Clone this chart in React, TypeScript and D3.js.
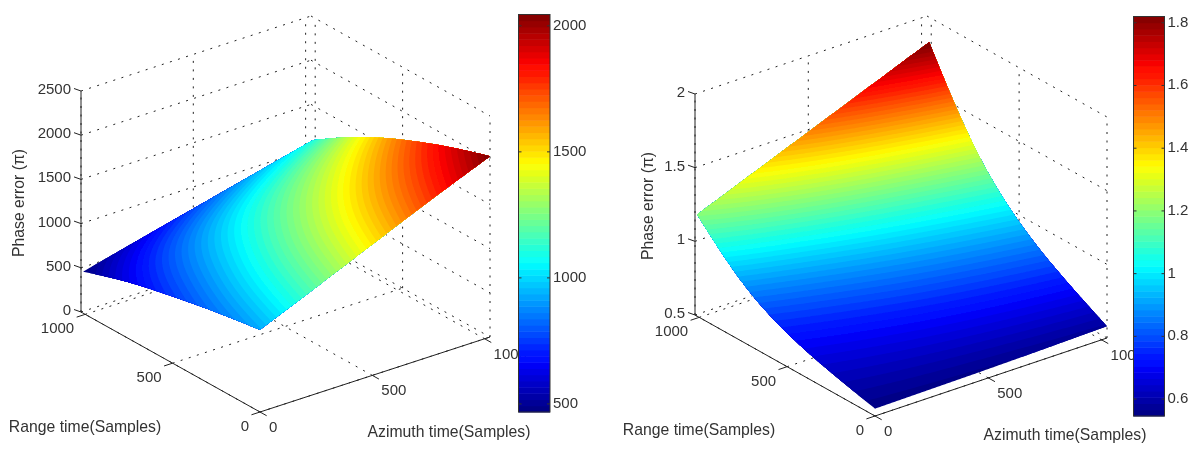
import * as d3 from "d3";

// sample positions the surface values were read at
const azimuthSamples = [0, 256, 512, 768, 1024];
const rangeSamples = [0, 253, 506, 759, 1012];

// rows follow rangeSamples, columns follow azimuthSamples
const leftSurface = [
  [930, 1210, 1495, 1780, 2045],
  [855, 1125, 1385, 1640, 1885],
  [753, 1005, 1240, 1455, 1680],
  [642, 870, 1060, 1240, 1440],
  [470, 630, 790, 950, 1110],
];
const rightSurface = [
  [0.55, 0.555, 0.56, 0.57, 0.58],
  [0.625, 0.65, 0.68, 0.71, 0.74],
  [0.72, 0.77, 0.83, 0.885, 0.94],
  [0.88, 0.97, 1.07, 1.16, 1.26],
  [1.19, 1.35, 1.51, 1.67, 1.83],
];

const azimuthTicks = [0, 500, 1000];
const rangeTicks = [0, 500, 1000];
const leftZTicks = [0, 500, 1000, 1500, 2000, 2500];
const rightZTicks = [0.5, 1, 1.5, 2];
const leftBarTicks = [500, 1000, 1500, 2000];
const rightBarTicks = [0.6, 0.8, 1, 1.2, 1.4, 1.6, 1.8];

const AXIS_MAX = 1024;
const LEVELS = 64;
const GRID = 140;
const FONT = "'Liberation Sans', Arial, sans-serif";
const TEXT = "#333";

// Matlab jet(64)
const jet = d3.range(LEVELS).map((i) => {
  const t = (i + 0.5) / LEVELS;
  const ch = (v: number) => Math.round(255 * Math.max(0, Math.min(1, v)));
  const r = ch(Math.min(4 * t - 1.5, -4 * t + 4.5));
  const g = ch(Math.min(4 * t - 0.5, -4 * t + 3.5));
  const b = ch(Math.min(4 * t + 0.5, -4 * t + 2.5));
  return `rgb(${r},${g},${b})`;
});

interface PanelProps {
  surface: number[][];
  zDomain: [number, number];
  zTicks: number[];
  barDomain: [number, number];
  barTicks: number[];
  origin: [number, number];
  azVec: [number, number];
  rangeVec: [number, number];
  zHeight: number;
  bar: { x: number; width: number; top: number; bottom: number };
  labels: {
    range: [number, number];
    azimuth: [number, number];
    phase: [number, number];
  };
}

function Panel({
  surface,
  zDomain,
  zTicks,
  barDomain,
  barTicks,
  origin,
  azVec,
  rangeVec,
  zHeight,
  bar,
  labels,
}: PanelProps) {
  const azX = d3.scaleLinear().domain([0, AXIS_MAX]).range([0, azVec[0]]);
  const azY = d3.scaleLinear().domain([0, AXIS_MAX]).range([0, azVec[1]]);
  const rX = d3.scaleLinear().domain([0, AXIS_MAX]).range([0, rangeVec[0]]);
  const rY = d3.scaleLinear().domain([0, AXIS_MAX]).range([0, rangeVec[1]]);
  const zY = d3.scaleLinear().domain(zDomain).range([0, -zHeight]);

  const project = (az: number, r: number, z: number): [number, number] => [
    origin[0] + azX(az) + rX(r),
    origin[1] + azY(az) + rY(r) + zY(z),
  ];

  const azEnd = azimuthSamples[azimuthSamples.length - 1];
  const rEnd = rangeSamples[rangeSamples.length - 1];

  // surface height between the read values
  const columns = azimuthSamples.map((_, c) =>
    d3.interpolateBasis(surface.map((row) => row[c]))
  );
  const heightAt = (az: number, r: number) => {
    const tr = r / rEnd;
    return d3.interpolateBasis(columns.map((f) => f(tr)))(az / azEnd);
  };

  const values: number[] = [];
  for (let j = 0; j < GRID; j++) {
    for (let i = 0; i < GRID; i++) {
      values.push(heightAt((i / (GRID - 1)) * azEnd, (j / (GRID - 1)) * rEnd));
    }
  }

  const levelWidth = (barDomain[1] - barDomain[0]) / LEVELS;
  const thresholds = d3.range(LEVELS).map((i) => barDomain[0] + i * levelWidth);
  thresholds[0] = (d3.min(values) as number) - 1;

  const contours = d3.contours().size([GRID, GRID]).thresholds(thresholds)(values);
  const toPath = d3.line();
  const gridT = (v: number) => Math.max(0, Math.min(1, (v - 0.5) / (GRID - 1)));
  const bands = contours.map((c) =>
    c.coordinates
      .flatMap((poly) =>
        poly.map((ring) => {
          const pts = ring.map(([x, y]) => {
            const az = gridT(x) * azEnd;
            const r = gridT(y) * rEnd;
            return project(az, r, heightAt(az, r));
          });
          return toPath(pts) + "Z";
        })
      )
      .join("")
  );

  const [zMin, zMax] = zDomain;
  const gridLines: [number, number, number, number, number, number][] = [];
  azimuthTicks.forEach((a) => {
    gridLines.push([a, 0, zMin, a, AXIS_MAX, zMin]);
    gridLines.push([a, AXIS_MAX, zMin, a, AXIS_MAX, zMax]);
  });
  rangeTicks.forEach((r) => {
    gridLines.push([0, r, zMin, AXIS_MAX, r, zMin]);
    gridLines.push([AXIS_MAX, r, zMin, AXIS_MAX, r, zMax]);
  });
  zTicks.forEach((z) => {
    gridLines.push([0, AXIS_MAX, z, AXIS_MAX, AXIS_MAX, z]);
    gridLines.push([AXIS_MAX, AXIS_MAX, z, AXIS_MAX, 0, z]);
  });

  const axisLines: [number, number, number, number, number, number][] = [
    [0, AXIS_MAX, zMin, 0, AXIS_MAX, zMax],
    [0, 0, zMin, 0, AXIS_MAX, zMin],
    [0, 0, zMin, AXIS_MAX, 0, zMin],
  ];

  const barY = d3.scaleLinear().domain(barDomain).range([bar.bottom, bar.top]);

  return (
    <g fontFamily={FONT} fontSize={15} fill={TEXT}>
      <g stroke="#222" strokeWidth={1} strokeDasharray="2 6.5" fill="none">
        {gridLines.map((l, i) => {
          const a = project(l[0], l[1], l[2]);
          const b = project(l[3], l[4], l[5]);
          return <line key={i} x1={a[0]} y1={a[1]} x2={b[0]} y2={b[1]} />;
        })}
      </g>

      {bands.map((d, i) => (
        <path key={i} d={d} fill={jet[i]} fillRule="evenodd" />
      ))}

      <g stroke="#222" strokeWidth={1}>
        {axisLines.map((l, i) => {
          const a = project(l[0], l[1], l[2]);
          const b = project(l[3], l[4], l[5]);
          return <line key={i} x1={a[0]} y1={a[1]} x2={b[0]} y2={b[1]} />;
        })}
        {zTicks.map((z) => {
          const a = project(0, AXIS_MAX, z);
          return <line key={z} x1={a[0]} y1={a[1]} x2={a[0] - 7} y2={a[1] - 2.5} />;
        })}
        {rangeTicks.map((r) => {
          const a = project(0, r, zMin);
          const b = project(-38, r, zMin);
          return <line key={r} x1={a[0]} y1={a[1]} x2={b[0]} y2={b[1]} />;
        })}
        {azimuthTicks.map((t) => {
          const a = project(t, 0, zMin);
          const b = project(t, -38, zMin);
          return <line key={t} x1={a[0]} y1={a[1]} x2={b[0]} y2={b[1]} />;
        })}
      </g>

      {/* tick labels */}
      {zTicks.map((z) => {
        const a = project(0, AXIS_MAX, z);
        return (
          <text key={z} x={a[0] - 10} y={a[1] + 3} textAnchor="end">
            {z}
          </text>
        );
      })}
      {rangeTicks.map((r) => {
        const a = project(0, r, zMin);
        return (
          <text key={r} x={a[0] - 11} y={a[1] + 19} textAnchor="end">
            {r}
          </text>
        );
      })}
      {azimuthTicks.map((t) => {
        const a = project(t, 0, zMin);
        return (
          <text key={t} x={a[0] + 9} y={a[1] + 20}>
            {t}
          </text>
        );
      })}

      <g fontSize={15.75}>
        <text x={labels.range[0]} y={labels.range[1]} textAnchor="middle" dominantBaseline="middle">
          Range time(Samples)
        </text>
        <text x={labels.azimuth[0]} y={labels.azimuth[1]} textAnchor="middle" dominantBaseline="middle">
          Azimuth time(Samples)
        </text>
        <text
          transform={`translate(${labels.phase[0]},${labels.phase[1]}) rotate(-90)`}
          textAnchor="middle"
          dominantBaseline="middle"
        >
          Phase error (π)
        </text>
      </g>

      {/* colorbar */}
      {jet.map((c, i) => {
        const y1 = barY(barDomain[0] + (i + 1) * levelWidth);
        const y0 = barY(barDomain[0] + i * levelWidth);
        return <rect key={i} x={bar.x} y={y1} width={bar.width} height={y0 - y1 + 0.5} fill={c} />;
      })}
      <rect
        x={bar.x}
        y={bar.top}
        width={bar.width}
        height={bar.bottom - bar.top}
        fill="none"
        stroke="#333"
        strokeWidth={1}
      />
      {barTicks.map((t) => (
        <g key={t}>
          <line x1={bar.x} x2={bar.x + 3} y1={barY(t)} y2={barY(t)} stroke="#333" />
          <line x1={bar.x + bar.width - 3} x2={bar.x + bar.width} y1={barY(t)} y2={barY(t)} stroke="#333" />
          <text x={bar.x + bar.width + 3} y={barY(t)} dominantBaseline="middle">
            {t}
          </text>
        </g>
      ))}
    </g>
  );
}

export default function App() {
  return (
    <svg
      width={1200}
      height={462}
      style={{ position: "absolute", left: 0, top: 0, background: "#fff" }}
    >
      <defs>
        {/* the reference is a soft, rescaled jpeg */}
        <filter id="soft" x="0" y="0" width="100%" height="100%">
          <feGaussianBlur stdDeviation={0.4} />
        </filter>
      </defs>
      <g filter="url(#soft)">
        <rect width={1200} height={462} fill="#fff" />
        <Panel
          surface={leftSurface}
          zDomain={[0, 2500]}
          zTicks={leftZTicks}
          barDomain={[468, 2045]}
          barTicks={leftBarTicks}
          origin={[260, 412]}
          azVec={[230, -75]}
          rangeVec={[-179, -100]}
          zHeight={221}
          bar={{ x: 518.5, width: 31.5, top: 14.5, bottom: 412 }}
          labels={{ range: [85, 428], azimuth: [449, 433], phase: [20, 203] }}
        />
        <Panel
          surface={rightSurface}
          zDomain={[0.5, 2]}
          zTicks={rightZTicks}
          barDomain={[0.546, 1.82]}
          barTicks={rightBarTicks}
          origin={[875, 416]}
          azVec={[232, -78]}
          rangeVec={[-180, -101]}
          zHeight={221}
          bar={{ x: 1133.5, width: 31, top: 16.5, bottom: 416 }}
          labels={{ range: [699, 431], azimuth: [1065, 436], phase: [649, 206] }}
        />
      </g>
    </svg>
  );
}
